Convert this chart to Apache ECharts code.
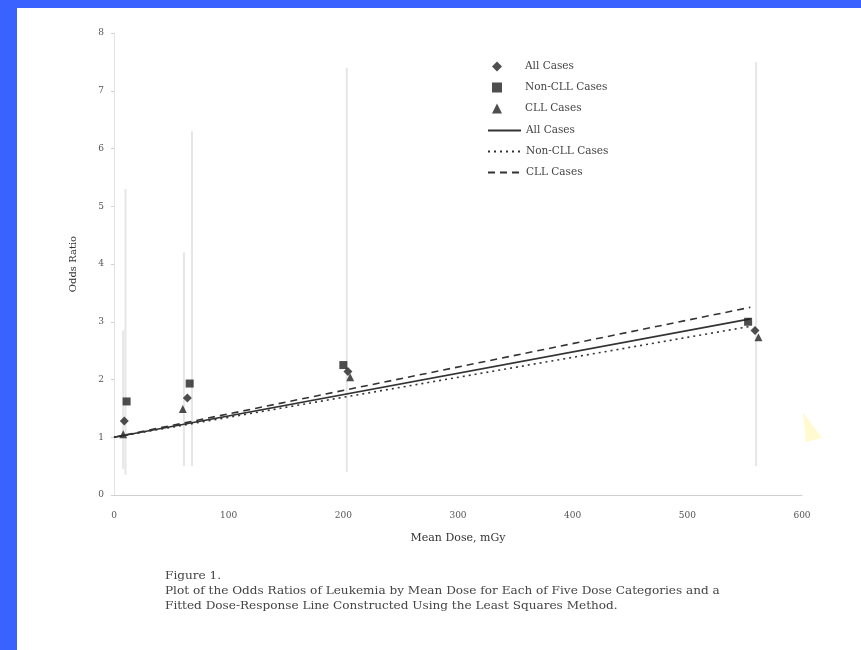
<!DOCTYPE html>
<html>
<head>
<meta charset="utf-8">
<script src="https://cdn.jsdelivr.net/npm/echarts@6/dist/echarts.min.js"></script>
<style>
  html, body { margin: 0; padding: 0; background: #fff; }
  #chart { width: 861px; height: 650px; }
</style>
</head>
<body>
<div id="chart"></div>
<script>
// odds ratios per dose category
var allCases = [[9, 1.28], [64, 1.68], [204, 2.14], [559, 2.85]];
var nonCllCases = [[11, 1.62], [66, 1.93], [200, 2.25], [553, 3.0]];
var cllCases = [[8, 1.05], [60, 1.49], [206, 2.04], [562, 2.73]];

// confidence bars: [dose, low, high]
var errorBars = [[8, 0.45, 2.85], [10, 0.35, 5.3], [61, 0.5, 4.2], [68, 0.5, 6.3], [203, 0.4, 7.4], [560, 0.5, 7.5]];

// least-squares fitted lines (start, end)
var fitAll = [[0, 1.0], [555, 3.05]];
var fitNonCll = [[0, 1.0], [555, 2.92]];
var fitCll = [[0, 1.0], [555, 3.25]];

var xTicks = [0, 100, 200, 300, 400, 500, 600];
var yTicks = [0, 1, 2, 3, 4, 5, 6, 7, 8];
var captionLines = [
  'Figure 1.',
  'Plot of the Odds Ratios of Leukemia by Mean Dose for Each of Five Dose Categories and a',
  'Fitted Dose-Response Line Constructed Using the Least Squares Method.'
];

var serif = 'DejaVu Serif';
var ink = '#222';

var chart = echarts.init(document.getElementById('chart'));

var legendText = { fontFamily: serif, fontSize: 10.5, color: '#444' };

var option = {
  backgroundColor: '#fff',
  animation: false,
  grid: { left: 114, right: 59, top: 33, bottom: 155 },
  legend: [
    {
      left: 492, top: 61, orient: 'vertical', padding: 0,
      itemWidth: 10, itemHeight: 10, itemGap: 10,
      textStyle: Object.assign({ padding: [0, 0, 0, 18] }, legendText),
      data: ['All Cases', 'Non-CLL Cases', 'CLL Cases']
    },
    {
      left: 487, top: 125, orient: 'vertical', padding: 0,
      itemWidth: 33, itemHeight: 12, itemGap: 10,
      itemStyle: { color: 'rgba(0,0,0,0)', borderWidth: 0 },
      textStyle: legendText,
      formatter: function (name) { return name.trim(); },
      data: ['All Cases ', 'Non-CLL Cases ', 'CLL Cases ']
    }
  ],
  xAxis: {
    type: 'value', min: 0, max: 600, interval: 100,
    name: 'Mean Dose, mGy', nameLocation: 'middle', nameGap: 38,
    nameTextStyle: { fontFamily: serif, fontSize: 11, color: '#333' },
    axisLine: { lineStyle: { color: '#cfcfcf' } },
    axisTick: { show: false },
    splitLine: { show: false },
    axisLabel: { fontFamily: serif, fontSize: 9, color: '#555', margin: 16,
      formatter: function (v) { return xTicks.indexOf(v) >= 0 ? String(v) : ''; } }
  },
  yAxis: {
    type: 'value', min: 0, max: 8, interval: 1,
    name: 'Odds Ratio', nameLocation: 'middle', nameGap: 36, nameRotate: 90,
    nameTextStyle: { fontFamily: serif, fontSize: 10, color: '#333' },
    axisLine: { show: true, lineStyle: { color: '#e2e2e2' } },
    axisTick: { show: true, length: 3, lineStyle: { color: '#d0d0d0' } },
    splitLine: { show: false },
    axisLabel: { fontFamily: serif, fontSize: 9, color: '#555', margin: 10,
      formatter: function (v) { return yTicks.indexOf(v) >= 0 ? String(v) : ''; } }
  },
  graphic: [
    { type: 'rect', left: 0, top: 0, z: 100, shape: { width: 861, height: 8 }, style: { fill: '#3a62ff' } },
    { type: 'rect', left: 0, top: 0, z: 100, shape: { width: 17, height: 650 }, style: { fill: '#3a62ff' } },
    { type: 'polygon', z: 1, shape: { points: [[803, 412], [822, 438], [806, 442]] }, style: { fill: '#fffad0' } },
    { type: 'text', x: 165, y: 569, scaleX: 1.15, z: 10,
      style: { text: captionLines.join('\n'), fontFamily: serif, fontSize: 10.5, lineHeight: 15, fill: '#444' } }
  ],
  series: [
    {
      type: 'custom', name: 'bars', silent: true, z: 1,
      renderItem: function (params, api) {
        var top = api.coord([api.value(0), api.value(2)]);
        var bot = api.coord([api.value(0), api.value(1)]);
        return { type: 'line', shape: { x1: top[0], y1: top[1], x2: bot[0], y2: bot[1] },
          style: { stroke: '#e6e6e6', lineWidth: 2 } };
      },
      encode: { x: 0, y: [1, 2] },
      data: errorBars
    },
    { type: 'line', name: 'All Cases ', data: fitAll, symbol: 'none', z: 3,
      lineStyle: { color: '#333', width: 1.6, type: 'solid' }, itemStyle: { color: '#333' } },
    { type: 'line', name: 'Non-CLL Cases ', data: fitNonCll, symbol: 'none', z: 3,
      lineStyle: { color: '#333', width: 1.6, type: [2, 4] }, itemStyle: { color: '#333' } },
    { type: 'line', name: 'CLL Cases ', data: fitCll, symbol: 'none', z: 3,
      lineStyle: { color: '#333', width: 1.6, type: [7, 5] }, itemStyle: { color: '#333' } },
    { type: 'scatter', name: 'All Cases', data: allCases, symbol: 'diamond', symbolSize: 9, z: 4,
      itemStyle: { color: ink } },
    { type: 'scatter', name: 'Non-CLL Cases', data: nonCllCases, symbol: 'rect', symbolSize: 8, z: 4,
      itemStyle: { color: ink } },
    { type: 'scatter', name: 'CLL Cases', data: cllCases, symbol: 'triangle', symbolSize: 8, z: 4,
      itemStyle: { color: ink } }
  ]
};

chart.setOption(option);
</script>
</body>
</html>
